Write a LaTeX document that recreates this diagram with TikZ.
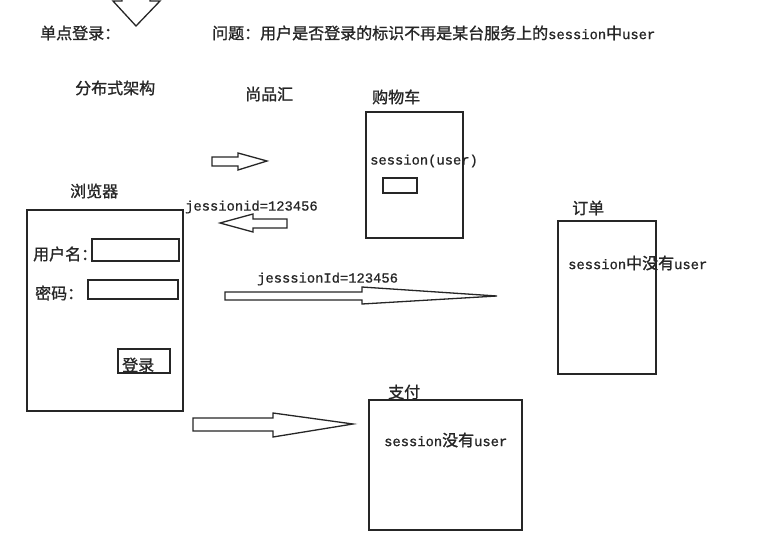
\documentclass[tikz,border=0pt]{standalone}
\usepackage{fontspec}
\setmainfont{Noto Sans CJK SC}
\newfontfamily\cjk[FakeBold=1.2]{Noto Sans CJK SC}
\newfontfamily\mono[FakeBold=0.8]{Liberation Mono}
\newcommand{\lat}[1]{{\mono\fontsize{13.8}{14}\selectfont #1}}
\begin{document}
\begin{tikzpicture}[x=1pt,y=-1pt,
  lbl/.style={inner sep=0pt,anchor=west,font=\fontsize{16}{16}\selectfont\cjk,text=black!85},
  mlbl/.style={inner sep=0pt,anchor=west,font=\fontsize{13.8}{14}\selectfont\mono,text=black!85},
  boxline/.style={draw=black!85,line width=1.3pt},
  blockarrow/.style={draw=black!85,line width=1.3pt,fill=white,line join=miter}]
\useasboundingbox (0,0) rectangle (772,549);
\begin{scope}
\clip (0,0) rectangle (772,549);
\draw[blockarrow] (122,-6) -- (122,1) -- (113,1) -- (136,26) -- (160,1) -- (150,1) -- (150,-6);
\end{scope}
% titles
\node[lbl] (t1) at (40,33) {单点登录：};
\node[lbl] (t2) at (212,33) {问题：用户是否登录的标识不再是某台服务上的\lat{session}中\lat{user}};
\node[lbl] (arch) at (75,88) {分布式架构};
\node[lbl] (sph) at (245,94) {尚品汇};
% cart
\node[lbl] (cartlbl) at (372,97) {购物车};
\draw[boxline] (366,112) rectangle (463,238);
\node[mlbl] (cartsess) at (370,161) {session(user)};
\draw[boxline] (383,178) rectangle (417,193);
% small right arrow
\draw[blockarrow] (212,157) -- (238,157) -- (238,153) -- (267,161) -- (238,170) -- (238,166) -- (212,166) -- cycle;
% jessionid label and left arrow
\node[mlbl] (jid1) at (185,207) {jessionid=123456};
\draw[blockarrow] (287,219) -- (253,219) -- (253,214) -- (220,223) -- (253,232) -- (253,228) -- (287,228) -- cycle;
% browser
\node[lbl] (brlbl) at (70,191) {浏览器};
\draw[boxline] (27,210) rectangle (183,411);
\node[lbl] (uname) at (33,254) {用户名：};
\draw[boxline] (92,239) rectangle (179,261);
\node[lbl] (pwd) at (35,293) {密码：};
\draw[boxline] (88,280) rectangle (178,299);
\draw[boxline] (118,349) rectangle (170,373);
\node[lbl] (login) at (122,365) {登录};
% big arrow to order
\node[mlbl] (jid2) at (257,279) {jesssionId=123456};
\draw[blockarrow] (225,292) -- (362,292) -- (362,287) -- (497,296) -- (362,304) -- (362,300) -- (225,300) -- cycle;
% order
\node[lbl] (ordlbl) at (572,208) {订单};
\draw[boxline] (558,221) rectangle (656,374);
\node[lbl] (ordtxt) at (568,263) {\lat{session}中没有\lat{user}};
% pay arrow
\draw[blockarrow] (193,418) -- (273,418) -- (273,413) -- (353,424) -- (273,437) -- (273,431) -- (193,431) -- cycle;
% pay
\node[lbl] (paylbl) at (388,392) {支付};
\draw[boxline] (369,400) rectangle (522,530);
\node[lbl] (paytxt) at (384,440) {\lat{session}没有\lat{user}};
\end{tikzpicture}
\end{document}
